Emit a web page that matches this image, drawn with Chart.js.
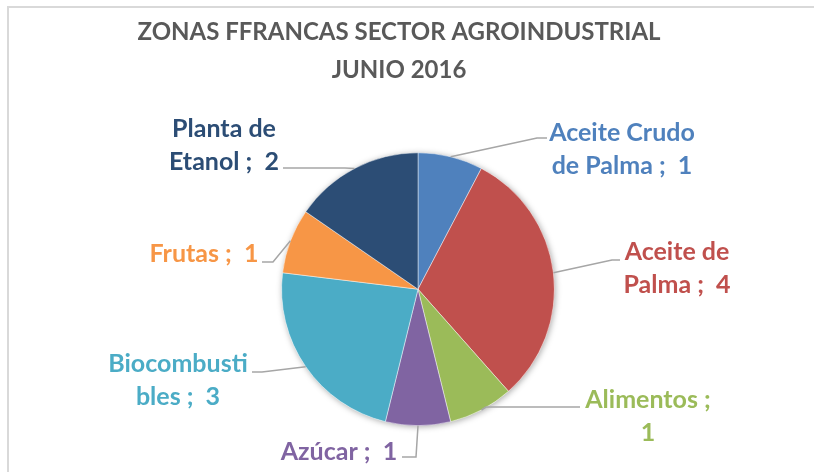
<!DOCTYPE html>
<html>
<head>
<meta charset="utf-8">
<script src="https://cdn.jsdelivr.net/npm/chart.js@4"></script>
<style>
  html, body { margin: 0; padding: 0; background: #fff; }
  canvas { display: block; }
</style>
</head>
<body>
<canvas id="myChart" width="814" height="472"></canvas>
<script>
// Datos del grafico
const categorias = ['Aceite Crudo de Palma', 'Aceite de Palma', 'Alimentos', 'Azúcar', 'Biocombustibles', 'Frutas', 'Planta de Etanol'];
const valores = [1, 4, 1, 1, 3, 1, 2];
const colores = ['#4F81BD', '#C0504D', '#9BBB59', '#8064A2', '#4BACC6', '#F79646', '#2C4D75'];
const titulo = ['ZONAS FFRANCAS SECTOR AGROINDUSTRIAL', 'JUNIO 2016'];

// donde se corta cada etiqueta (como en Excel)
const cortes = [12, 9, 11, null, 11, null, 9];

// posicion de las etiquetas: centro del texto, primera linea base, codo de la linea guia
const etiquetas = [
    { tx: 622, by: 141, ex: 537, ey: 138, lx: 547 },
    { tx: 677, by: 260, ex: 612, ey: 260, lx: 620 },
    { tx: 648, by: 408, ex: 486, ey: 407, lx: 580 },
    { tx: 339, by: 460, ex: 416, ey: 457, lx: 402 },
    { tx: 178, by: 372, ex: 262, ey: 372, lx: 252 },
    { tx: 204, by: 262, ex: 273, ey: 262, lx: 262 },
    { tx: 224, by: 137, ex: 345, ey: 168, lx: 283 }
];

function textoEtiqueta(i) {
    const s = categorias[i] + ' ;  ' + valores[i];
    const c = cortes[i];
    if (c === null) return [s];
    return [s.slice(0, c).trim(), s.slice(c).trim()];
}

// marco gris y sombra del pastel
const marco = {
    id: 'marco',
    beforeDraw(chart) {
        const ctx = chart.ctx;
        ctx.save();
        ctx.strokeStyle = '#d9d9d9';
        ctx.lineWidth = 2;
        ctx.beginPath();
        ctx.moveTo(8, 480);
        ctx.lineTo(8, 7);
        ctx.lineTo(820, 7);
        ctx.stroke();
        ctx.restore();
    },
    afterLayout(chart) {
        // el titulo de Excel no esta centrado sobre el pastel
        if (chart.titleBlock) {
            chart.titleBlock.left = 0;
            chart.titleBlock.right = 798;
        }
    },
    beforeDatasetsDraw(chart) {
        const arc = chart.getDatasetMeta(0).data[0];
        if (!arc) return;
        const ctx = chart.ctx;
        ctx.save();
        ctx.shadowColor = 'rgba(0,0,0,0.35)';
        ctx.shadowBlur = 6;
        ctx.shadowOffsetX = 1;
        ctx.shadowOffsetY = 1;
        ctx.fillStyle = '#fff';
        ctx.beginPath();
        ctx.arc(arc.x, arc.y, arc.outerRadius, 0, Math.PI * 2);
        ctx.fill();
        ctx.restore();
    }
};

// etiquetas con linea guia
const etiquetasPlugin = {
    id: 'etiquetas',
    afterDatasetsDraw(chart) {
        const ctx = chart.ctx;
        const meta = chart.getDatasetMeta(0);
        meta.data.forEach((arc, i) => {
            const p = arc.getProps(['x', 'y', 'startAngle', 'endAngle', 'outerRadius'], true);
            const mid = (p.startAngle + p.endAngle) / 2;
            const px = p.x + Math.cos(mid) * p.outerRadius;
            const py = p.y + Math.sin(mid) * p.outerRadius;
            const L = etiquetas[i];

            ctx.save();
            ctx.strokeStyle = '#a6a6a6';
            ctx.lineWidth = 1.5;
            ctx.beginPath();
            ctx.moveTo(px, py);
            ctx.lineTo(L.ex, L.ey);
            ctx.lineTo(L.lx, L.ey);
            ctx.stroke();

            ctx.fillStyle = colores[i];
            ctx.font = 'bold 25px Lato';
            ctx.textAlign = 'center';
            ctx.textBaseline = 'alphabetic';
            textoEtiqueta(i).forEach((linea, k) => {
                ctx.fillText(linea, L.tx, L.by + k * 33);
            });
            ctx.restore();
        });
    }
};

function crear() {
    const data = {
        labels: categorias,
        datasets: [{
            data: valores,
            backgroundColor: colores,
            borderColor: 'rgba(255,255,255,0.6)',
            borderWidth: 0.75
        }]
    };

    const config = {
        type: 'pie',
        data: data,
        options: {
            responsive: false,
            animation: false,
            layout: {
                padding: { left: 281, right: 259, bottom: 46, top: 0 }
            },
            plugins: {
                legend: { display: false },
                tooltip: { enabled: false },
                title: {
                    display: true,
                    text: titulo,
                    color: '#595959',
                    font: { family: 'Lato', size: 24, weight: 'bold', lineHeight: 1.55 },
                    padding: { top: 14, bottom: 64 }
                }
            }
        },
        plugins: [marco, etiquetasPlugin]
    };

    const ctx = document.getElementById('myChart').getContext('2d');
    new Chart(ctx, config);
}

document.fonts.load('bold 25px Lato').then(crear, crear);
</script>
</body>
</html>
